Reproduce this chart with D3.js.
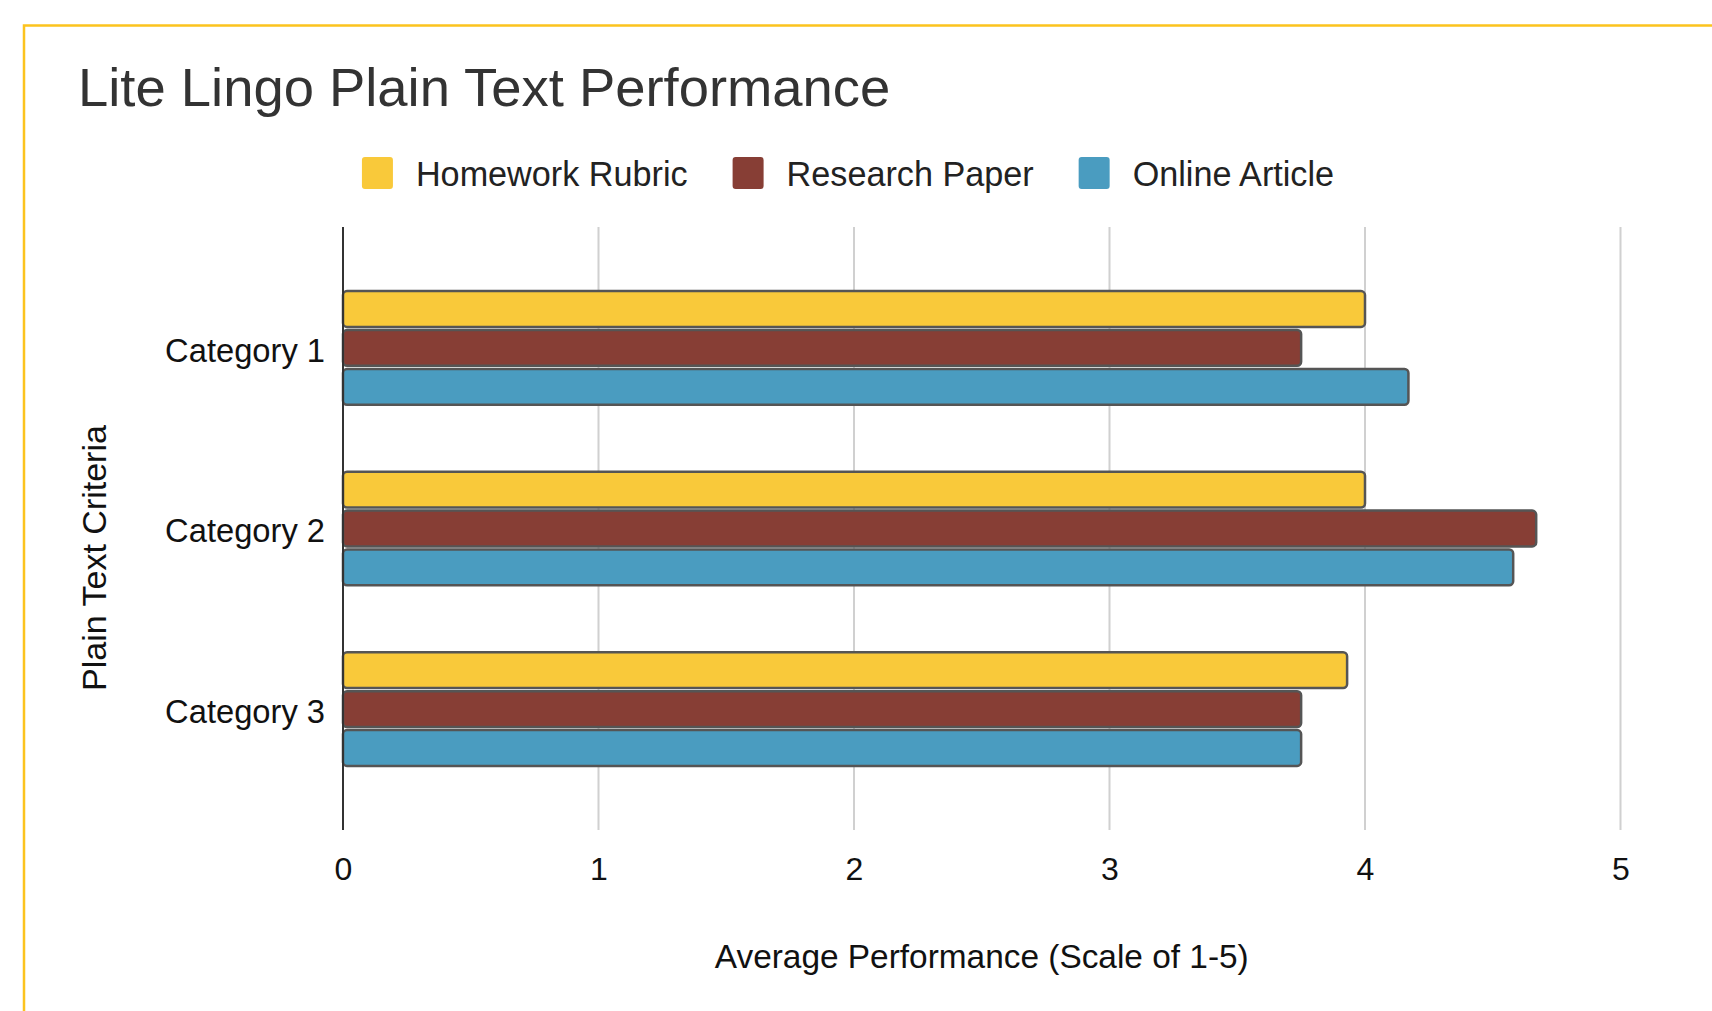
<!DOCTYPE html>
<html>
<head>
<meta charset="utf-8">
<script src="https://cdn.jsdelivr.net/npm/d3@7"></script>
<style>
  html, body { margin: 0; padding: 0; background: #fff; }
  svg { display: block; font-family: "Liberation Sans", Arial, Helvetica, sans-serif; }
</style>
</head>
<body>
<svg id="chart" width="1712" height="1011"></svg>
<script>
const categories = ["Category 1", "Category 2", "Category 3"];
const seriesNames = ["Homework Rubric", "Research Paper", "Online Article"];
const homeworkRubric = [4.0, 4.0, 3.93];
const researchPaper = [3.75, 4.67, 3.75];
const onlineArticle = [4.17, 4.58, 3.75];
const xTicks = [0, 1, 2, 3, 4, 5];
const colors = ["#F9C93A", "#873E35", "#4A9CC0"];

const seriesValues = [homeworkRubric, researchPaper, onlineArticle];
const data = categories.map((c, i) => ({
  category: c,
  values: seriesNames.map((s, j) => ({ series: s, value: seriesValues[j][i] }))
}));

const W = 1712, H = 1011;
const svg = d3.select("#chart");
const margin = { left: 343, right: 1712 - 1620.5, top: 227, bottom: 1011 - 830 };

// Frame border (top and left visible)
svg.append("rect")
  .attr("x", 24).attr("y", 25.5)
  .attr("width", W + 20).attr("height", H + 20)
  .attr("fill", "none")
  .attr("stroke", "#FCC31E")
  .attr("stroke-width", 2.5);

// Title
svg.append("text")
  .attr("x", 78).attr("y", 106)
  .attr("font-size", 54.4)
  .attr("fill", "#333")
  .text("Lite Lingo Plain Text Performance");

const x = d3.scaleLinear().domain([0, 5]).range([margin.left, W - margin.right]);
const y0 = d3.scaleBand().domain(categories)
  .range([margin.top, H - margin.bottom])
  .paddingInner(0.371).paddingOuter(0.355);
const y1 = d3.scaleBand().domain(seriesNames)
  .range([0, y0.bandwidth()])
  .paddingInner(0.08);
const color = d3.scaleOrdinal().domain(seriesNames).range(colors);

// Gridlines
svg.append("g").selectAll("line")
  .data(xTicks.filter(d => d !== 0))
  .join("line")
  .attr("x1", d => x(d)).attr("x2", d => x(d))
  .attr("y1", margin.top).attr("y2", H - margin.bottom)
  .attr("stroke", "#D0D0D0")
  .attr("stroke-width", 2);

// X axis labels
const xAxis = d3.axisBottom(x).tickValues(xTicks).tickSize(0).tickPadding(0).tickFormat(d3.format("d"));
const gx = svg.append("g")
  .attr("transform", `translate(0,${H - margin.bottom})`)
  .call(xAxis);
gx.select(".domain").remove();
gx.selectAll("text")
  .attr("font-size", 32)
  .attr("fill", "#111")
  .attr("font-family", "\"Liberation Sans\", Arial, sans-serif")
  .attr("dy", null)
  .attr("y", 50);

// Bars
const groups = svg.append("g").selectAll("g")
  .data(data)
  .join("g")
  .attr("transform", d => `translate(0,${y0(d.category)})`);
groups.selectAll("rect")
  .data(d => d.values)
  .join("rect")
  .attr("x", x(0))
  .attr("y", d => y1(d.series))
  .attr("width", d => x(d.value) - x(0))
  .attr("height", y1.bandwidth())
  .attr("rx", 4).attr("ry", 4)
  .attr("fill", d => color(d.series))
  .attr("stroke", "#555")
  .attr("stroke-width", 2.5);

// Y axis line
svg.append("line")
  .attr("x1", x(0)).attr("x2", x(0))
  .attr("y1", margin.top).attr("y2", H - margin.bottom)
  .attr("stroke", "#333")
  .attr("stroke-width", 2);

// Category labels
const yAxis = d3.axisLeft(y0).tickSize(0).tickPadding(18);
const gy = svg.append("g")
  .attr("transform", `translate(${x(0)},0)`)
  .call(yAxis);
gy.select(".domain").remove();
gy.selectAll("text")
  .attr("font-size", 32.7)
  .attr("fill", "#111")
  .attr("dy", "0.42em")
  .attr("font-family", "\"Liberation Sans\", Arial, sans-serif");

// Axis titles
svg.append("text")
  .attr("x", (x(0) + x(5)) / 2).attr("y", 968)
  .attr("text-anchor", "middle")
  .attr("font-size", 33.4)
  .attr("fill", "#111")
  .text("Average Performance (Scale of 1-5)");

svg.append("text")
  .attr("transform", "translate(106,558) rotate(-90)")
  .attr("text-anchor", "middle")
  .attr("font-size", 34)
  .attr("fill", "#111")
  .text("Plain Text Criteria");

// Legend
const legend = svg.append("g");
let lx = 0;
seriesNames.forEach((s, i) => {
  const g = legend.append("g");
  g.append("rect")
    .attr("x", 0).attr("y", -29)
    .attr("width", 31).attr("height", 32)
    .attr("rx", 3).attr("ry", 3)
    .attr("fill", colors[i]);
  const t = g.append("text")
    .attr("x", 54).attr("y", 0)
    .attr("font-size", 34.2)
    .attr("fill", "#222")
    .text(s);
  const w = 54 + t.node().getComputedTextLength();
  g.attr("transform", `translate(${lx},0)`);
  lx += w + 45;
});
const legendWidth = lx - 45;
legend.attr("transform", `translate(${848 - legendWidth / 2},186)`);
</script>
</body>
</html>
